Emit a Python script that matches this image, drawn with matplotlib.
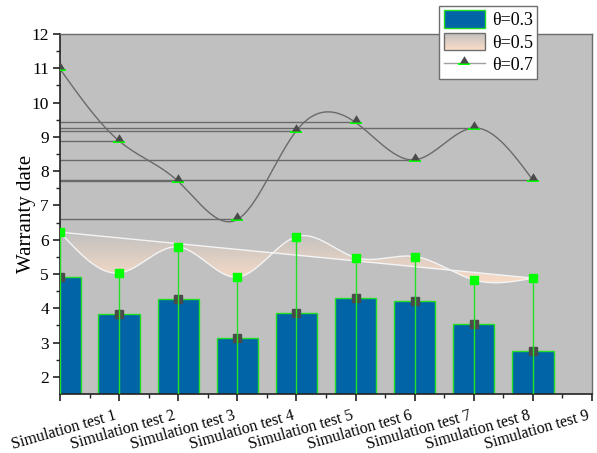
import numpy as np
import matplotlib.pyplot as plt
from matplotlib.patches import Rectangle, Patch
from matplotlib.lines import Line2D
from matplotlib.path import Path
from matplotlib.legend_handler import HandlerBase, HandlerTuple
from matplotlib.colors import LinearSegmentedColormap, to_rgb
from matplotlib.transforms import ScaledTranslation

plt.rcParams['font.family'] = ['Liberation Serif', 'DejaVu Serif']

# ── data ─────────────────────────────────────────────────
tests = ['Simulation test 1', 'Simulation test 2', 'Simulation test 3',
         'Simulation test 4', 'Simulation test 5', 'Simulation test 6',
         'Simulation test 7', 'Simulation test 8', 'Simulation test 9']
theta_03 = [4.91, 3.82, 4.26, 3.14, 3.86, 4.31, 4.21, 3.53, 2.76]
theta_05 = [6.22, 5.03, 5.79, 4.91, 6.09, 5.48, 5.51, 4.83, 4.88]
theta_07 = [10.98, 8.88, 7.70, 6.59, 9.18, 9.42, 8.33, 9.26, 7.74]

YMIN, YMAX = 1.5, 12
BG = '#C0C0C0'
BLUE = '#0064A7'
LIME = '#22E022'
PEACH = '#FBDCC6'


def spline(x, y, n=400):
    # natural cubic spline through the points
    x = np.asarray(x, float)
    y = np.asarray(y, float)
    h = np.diff(x)
    m = len(x)
    A = np.zeros((m, m))
    b = np.zeros(m)
    A[0, 0] = A[-1, -1] = 1
    for i in range(1, m - 1):
        A[i, i - 1] = h[i - 1]
        A[i, i] = 2 * (h[i - 1] + h[i])
        A[i, i + 1] = h[i]
        b[i] = 6 * ((y[i + 1] - y[i]) / h[i] - (y[i] - y[i - 1]) / h[i - 1])
    M = np.linalg.solve(A, b)
    xs = np.linspace(x[0], x[-1], n)
    k = np.clip(np.searchsorted(x, xs) - 1, 0, m - 2)
    x0, x1 = x[k], x[k + 1]
    hh = x1 - x0
    t0, t1 = x1 - xs, xs - x0
    ys = (M[k] * t0 ** 3 / (6 * hh) + M[k + 1] * t1 ** 3 / (6 * hh)
          + (y[k] / hh - M[k] * hh / 6) * t0 + (y[k + 1] / hh - M[k + 1] * hh / 6) * t1)
    return xs, ys


# triangle marker sitting on a small green bar
tri_path = Path([(-4, 0), (4, 0), (0, 6.5), (-4, 0)],
                [Path.MOVETO, Path.LINETO, Path.LINETO, Path.CLOSEPOLY])
band_path = Path([(-5, -2.2), (5, -2.2), (5, 0), (-5, 0), (-5, -2.2), (0, 6.5)],
                 [Path.MOVETO, Path.LINETO, Path.LINETO, Path.LINETO, Path.CLOSEPOLY, Path.MOVETO])
MS7 = 10.5


class GradientHandle:
    pass


class HandlerGradient(HandlerBase):
    def create_artists(self, legend, orig_handle, xdescent, ydescent,
                       width, height, fontsize, trans):
        top, bot = np.array(to_rgb(BG)), np.array(to_rgb(PEACH))
        arts = []
        n = 24
        for i in range(n):
            f = i / (n - 1)
            c = bot * (1 - f) + top * f
            arts.append(Rectangle((-xdescent, -ydescent + height * i / n), width,
                                  height / n * 1.05, facecolor=c, edgecolor='none',
                                  transform=trans))
        arts.append(Rectangle((-xdescent, -ydescent), width, height, fill=False,
                              edgecolor='#6E6E6E', lw=1, transform=trans))
        return arts


fig = plt.figure(figsize=(5.97, 4.53), dpi=100)
ax = fig.add_axes([0.1005, 0.1302, 0.8911, 0.7948])
ax.set_facecolor(BG)

pos = np.arange(len(theta_03))

# θ=0.3 bars with markers on top
ax.bar(pos, theta_03, width=0.7, bottom=0, color=BLUE, edgecolor=LIME, lw=1, zorder=2)
ax.plot(pos, theta_03, 's', color='#4A4A4A', ms=6, zorder=3)

# θ=0.5 spline, baseline and gradient fill between them
xs, c05 = spline(pos, theta_05)
base = theta_05[0] + (theta_05[-1] - theta_05[0]) * (xs - xs[0]) / (xs[-1] - xs[0])
poly = ax.fill_between(xs, c05, base, facecolor='none', edgecolor='none')
cmap = LinearSegmentedColormap.from_list('fade', [PEACH, BG])
grad = np.linspace(0, 1, 256).reshape(-1, 1)
im = ax.imshow(grad, extent=[pos[0], pos[-1], 4.72, 6.25], origin='lower',
               cmap=cmap, aspect='auto', zorder=1.5, interpolation='bilinear')
im.set_clip_path(poly.get_paths()[0], transform=ax.transData)
ax.plot(xs, c05, color='#F4F4F4', lw=1, zorder=2.5)
ax.plot(xs, base, color='#F4F4F4', lw=1, zorder=2.5)
ax.vlines(pos, YMIN, theta_05, color=LIME, lw=1, zorder=4)
ax.plot(pos, theta_05, 's', color='#00FF00', ms=6, zorder=5)

# θ=0.7 spline with horizontal drop lines to the y axis
xs, c07 = spline(pos, theta_07)
ax.hlines(theta_07, 0, pos, color='#6A6A6A', lw=1, zorder=1.8)
ax.plot(xs, c07, color='#6A6A6A', lw=1, zorder=3)
ax.plot(pos, theta_07, ls='none', marker=band_path, color='#00FF00', mew=0, ms=MS7, zorder=6)
ax.plot(pos, theta_07, ls='none', marker=tri_path, color='#4A4A4A', mew=0, ms=MS7, zorder=6)

ax.set_xlim(0, len(tests))
ax.set_ylim(YMIN, YMAX)
ax.set_xticks(np.arange(len(tests) + 1))
ax.set_xticklabels([''] + tests, rotation=16, ha='right', va='top',
                   rotation_mode='anchor', fontsize=11.5)
ax.set_xticks(np.arange(len(tests)) + 0.5, minor=True)
ax.set_yticks(np.arange(2, 13))
ax.set_yticks(np.arange(2, 12, 1) + 0.5, minor=True)
ax.tick_params(axis='y', labelsize=12.5, pad=3)
ax.tick_params(axis='x', which='major', pad=5)
ax.tick_params(which='major', direction='out', length=5, width=1.2, color='#222222')
ax.tick_params(which='minor', direction='out', length=3, width=1, color='#222222')
ax.set_ylabel('Warranty date', fontsize=15)
ax.yaxis.set_label_coords(-0.045, 0.5)

# nudge the slanted category labels a little to the left of their ticks
shift = ScaledTranslation(-5 / 100, 0, fig.dpi_scale_trans)
for lab in ax.get_xticklabels():
    lab.set_transform(lab.get_transform() + shift)

for s in ['left', 'bottom']:
    ax.spines[s].set_color('#222222')
    ax.spines[s].set_linewidth(1.2)
for s in ['top', 'right']:
    ax.spines[s].set_color('#6A6A6A')
    ax.spines[s].set_linewidth(1)

h1 = Patch(facecolor=BLUE, edgecolor=LIME, lw=1)
h2 = GradientHandle()
h3 = (Line2D([], [], color='#A0A0A0', lw=1),
      Line2D([], [], ls='none', marker=band_path, color='#00FF00', mew=0, ms=MS7),
      Line2D([], [], ls='none', marker=tri_path, color='#4A4A4A', mew=0, ms=MS7))
leg = ax.legend([h1, h2, h3], ['θ=0.3', 'θ=0.5', 'θ=0.7'],
                handler_map={GradientHandle: HandlerGradient(),
                             tuple: HandlerTuple(ndivide=1)},
                loc='upper right', bbox_to_anchor=(0.9, 0.987),
                bbox_transform=fig.transFigure, borderaxespad=0,
                fontsize=13, handlelength=2.25, handleheight=1.1,
                handletextpad=0.4, labelspacing=0.2, borderpad=0.25,
                fancybox=False, framealpha=1, edgecolor='#6E6E6E')
leg.get_frame().set_linewidth(1)
leg.set_zorder(10)

plt.savefig('out.png', dpi=100)
plt.close()
